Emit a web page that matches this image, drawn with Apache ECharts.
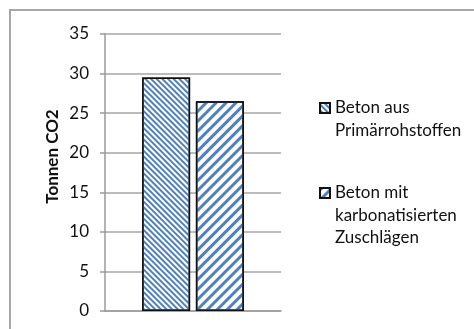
<!DOCTYPE html>
<html>
<head>
<meta charset="utf-8">
<script src="https://cdn.jsdelivr.net/npm/echarts@6/dist/echarts.min.js"></script>
<style>
  html, body { margin: 0; padding: 0; background: #fff; }
  #chart { width: 474px; height: 329px; }
</style>
</head>
<body>
<div id="chart"></div>
<script>
var categories = [''];
var seriesNames = ['Beton aus\nPrimärrohstoffen', 'Beton mit\nkarbonatisierten\nZuschlägen'];
var primaer = [29.5];
var karbonatisiert = [26.5];
var yTicks = { min: 0, max: 35, interval: 5 };

var chart = echarts.init(document.getElementById('chart'));
var font = 'Lato, "Open Sans", sans-serif';
var blue = '#4f81bd';
var lh = 22.5;

// pad the front with empty lines so the icon sits next to the first line
function topAligned(name) {
  var n = name.split('\n').length;
  return new Array(n).join('\n') + name;
}

function legendFor(name, iconY) {
  var n = name.split('\n').length;
  return {
    data: [name],
    left: 319,
    top: iconY - (2 * n - 1) * lh / 2,
    padding: 0,
    icon: 'rect',
    itemWidth: 10,
    itemHeight: 10,
    formatter: topAligned,
    textStyle: { fontFamily: font, fontSize: 17, color: '#111', lineHeight: lh }
  };
}

chart.setOption({
  animation: false,
  graphic: [{
    type: 'rect',
    shape: { x: 10, y: 10, width: 480, height: 340 },
    style: { fill: 'none', stroke: '#a6a6a6', lineWidth: 2 },
    silent: true
  }],
  grid: { left: 105, right: 193, top: 34, bottom: 18 },
  xAxis: {
    type: 'category',
    data: categories,
    axisLine: { lineStyle: { color: '#9a9a9a', width: 1.5 } },
    axisTick: { show: false },
    axisLabel: { show: false }
  },
  yAxis: {
    type: 'value',
    min: yTicks.min,
    max: yTicks.max,
    interval: yTicks.interval,
    name: 'Tonnen CO2',
    nameLocation: 'middle',
    nameGap: 44,
    nameTextStyle: { fontFamily: font, fontSize: 17, fontWeight: 'bold', color: '#111', padding: [0, 0, 0, 32] },
    axisLine: { show: true, lineStyle: { color: '#9a9a9a', width: 1.5 } },
    axisTick: { show: true, length: 5, lineStyle: { color: '#9a9a9a', width: 1.5 } },
    axisLabel: { fontFamily: font, fontSize: 17, color: '#111', margin: 16 },
    splitLine: { lineStyle: { color: '#a6a6a6', width: 1.5 } }
  },
  legend: [legendFor(seriesNames[0], 108), legendFor(seriesNames[1], 193)],
  series: [{
    name: seriesNames[0],
    type: 'bar',
    data: primaer,
    barWidth: 48,
    barGap: '12%',
    itemStyle: {
      color: '#ffffff',
      borderColor: '#111',
      borderWidth: 1.5,
      decal: { symbol: 'rect', symbolSize: 1, dashArrayX: [1, 0], dashArrayY: [2, 2], rotation: Math.PI / 4, color: blue }
    }
  }, {
    name: seriesNames[1],
    type: 'bar',
    data: karbonatisiert,
    barWidth: 48,
    itemStyle: {
      color: '#ffffff',
      borderColor: '#111',
      borderWidth: 1.5,
      decal: { symbol: 'rect', symbolSize: 1, dashArrayX: [1, 0], dashArrayY: [3, 4], rotation: -Math.PI / 4, color: blue }
    }
  }]
});
</script>
</body>
</html>
